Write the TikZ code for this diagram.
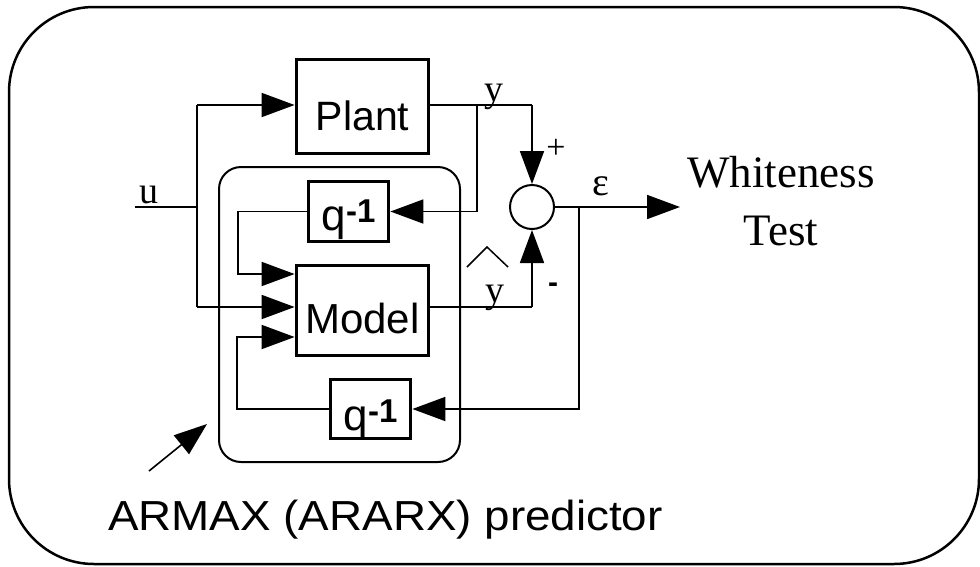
\documentclass[tikz,border=0pt]{standalone}
\usepackage{fontspec}
\setmainfont{Liberation Serif}
\setsansfont{Liberation Sans}
\usetikzlibrary{arrows.meta,calc}
\newcommand\qinv{q\raisebox{8pt}{\bfseries\fontsize{33}{33}\selectfont -1}}
\begin{document}
\begin{tikzpicture}[x=1pt,y=-1pt,
  conn/.style={line width=1.8pt},
  arr/.style={conn,-{Triangle[length=33pt,width=24pt]}},
  blk/.style={draw,line width=3.8pt,inner sep=0pt,text depth=0pt,font=\sffamily\fontsize{41}{48}\selectfont},
  qblk/.style={blk,minimum width=80pt,font=\sffamily\fontsize{44}{48}\selectfont},
  lbl/.style={inner sep=0pt,font=\fontsize{38}{44}\selectfont},
]
\useasboundingbox (0,0) rectangle (980,566);
\node[draw,line width=2.5pt,rounded corners=85pt,minimum width=970pt,minimum height=557pt,inner sep=0pt] (frame) at (494,285.5) {};
\node[draw,line width=2pt,rounded corners=22pt,minimum width=241pt,minimum height=295pt,inner sep=0pt] (pred) at (339.5,314.5) {};

\node[blk,minimum width=132pt,minimum height=94pt,text height=47pt] (plant) at (362.5,106.5) {Plant};
\node[qblk,minimum height=60pt,text height=38pt] (qa) at (348.5,211.5) {\qinv};
\node[blk,minimum width=132pt,minimum height=90pt,text height=45pt,font=\sffamily\fontsize{42}{48}\selectfont] (model) at (362.5,310.5) {Model};
\node[qblk,minimum height=59pt,text height=42pt] (qb) at (370.5,409) {\qinv};
\node[draw,circle,line width=2pt,minimum size=44pt,inner sep=0pt] (sum) at (532,207) {};

\coordinate (uin) at (135,207);
\coordinate (ju) at (197,207);
\coordinate (jtop) at (197,105);
\coordinate (jmid) at (197,307);
\coordinate (jy) at (477,105);
\coordinate (cy) at (532,105);
\coordinate (cyh) at (532,307);
\coordinate (je) at (579,207);
\coordinate (eout) at (680,207);
\coordinate (ka) at (238,274);
\coordinate (kb) at (237,337);
\coordinate (pa) at (149,471);
\coordinate (pb) at (207,424);

\draw[conn] (uin) -- (ju);
\draw[conn] (jtop) -- (jmid);
\draw[arr] (jtop) -- (plant.west |- jtop);
\draw[arr] (jmid) -- (model.west |- jmid);
\draw[conn] (plant.east |- cy) -- (cy);
\draw[arr] (cy) -- (sum.north);
\draw[arr] (jy) |- (qa.east);
\draw[arr] (qa.west) -| (ka) -- (model.west |- ka);
\draw[conn] (model.east |- cyh) -- (cyh);
\draw[arr] (cyh) -- (sum.south);
\draw[arr] (sum.east) -- (eout);
\draw[arr] (je) |- (qb.east);
\draw[arr] (qb.west) -| (kb) -- (model.west |- kb);
\draw[arr,line width=1.6pt] (pa) -- (pb);

\node[lbl,anchor=base] (lu) at (149,203) {u};
\node[lbl,anchor=base] (ly) at (494,101) {y};
\node[lbl,anchor=base] (lyh) at (495,302) {y};
\draw[line width=1.5pt] (467,267) -- (487,247) -- (508,267);
\node[lbl,anchor=base,font=\fontsize{40}{44}\selectfont] (le) at (601,195) {ε};
\node[lbl,font=\fontsize{34}{34}\selectfont] (lp) at (556,149) {+};
\node[lbl,font=\sffamily\bfseries\fontsize{30}{30}\selectfont] (lm) at (553,288) {-};
\node[inner sep=0pt,align=center,font=\fontsize{45}{58}\selectfont] (wt) at (781,201) {Whiteness\\Test};
\node[inner sep=0pt,anchor=base west,font=\sffamily\fontsize{42}{48}\selectfont] (armax) at (108,530) {\scalebox{1.09}[1]{ARMAX (ARARX) predictor}};
\end{tikzpicture}
\end{document}
